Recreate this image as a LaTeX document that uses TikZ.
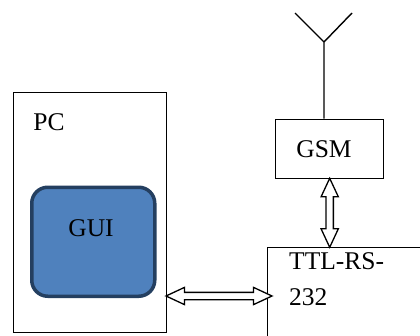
\documentclass[tikz,border=0pt]{standalone}
\usepackage{fontspec}
\setmainfont{Liberation Serif}
\usetikzlibrary{shapes.arrows,calc}

\begin{document}
\begin{tikzpicture}
[x=1pt, y=1pt, font=\fontsize{25.5}{36}\selectfont,
  block/.style={draw, line width=1.4pt, anchor=south west, inner sep=0pt},
  dblarrow/.style={double arrow, draw, fill=white, line width=1.3pt, inner sep=3pt,
    double arrow head extend=5pt, double arrow tip angle=50, minimum height=#1}]
  \clip (0,0) rectangle (420,335);
  \node[block, minimum width=153pt, minimum height=240pt] (pc) at (13,2) {};
  \node[block, minimum width=123pt, minimum height=109pt, rounded corners=16pt,
    fill={rgb,255:red,79;green,129;blue,189}, draw={rgb,255:red,36;green,63;blue,96},
    line width=3.5pt] (gui) at (30,37) {};
  \node[block, minimum width=108pt, minimum height=59pt] (gsm) at (275,156) {};
  \node[block, minimum width=170pt, minimum height=100pt] (ttl) at (267,-13) {};
  % labels
  \node (pclabel) at (49,213) {PC};
  \node (guilabel) at (91,107) {GUI};
  \node (gsmlabel) at (324,186) {GSM};
  \node[anchor=north west, align=left, inner sep=0pt] (ttllabel) at (289,83) {TTL-RS-\\232};
  % antenna
  \coordinate (mast) at (324,293);
  \draw[line width=1.4pt] (gsm.north -| mast) -- (mast) -- +(-29,29) (mast) -- +(28,29);
  % links
  \node[dblarrow=69pt, rotate=90] (gsmlink) at ($(gsm.south)!.5!(gsm.south |- ttl.north)$) {};
  \node[dblarrow=106pt] (pclink) at (219,39) {};
\end{tikzpicture}
\end{document}
